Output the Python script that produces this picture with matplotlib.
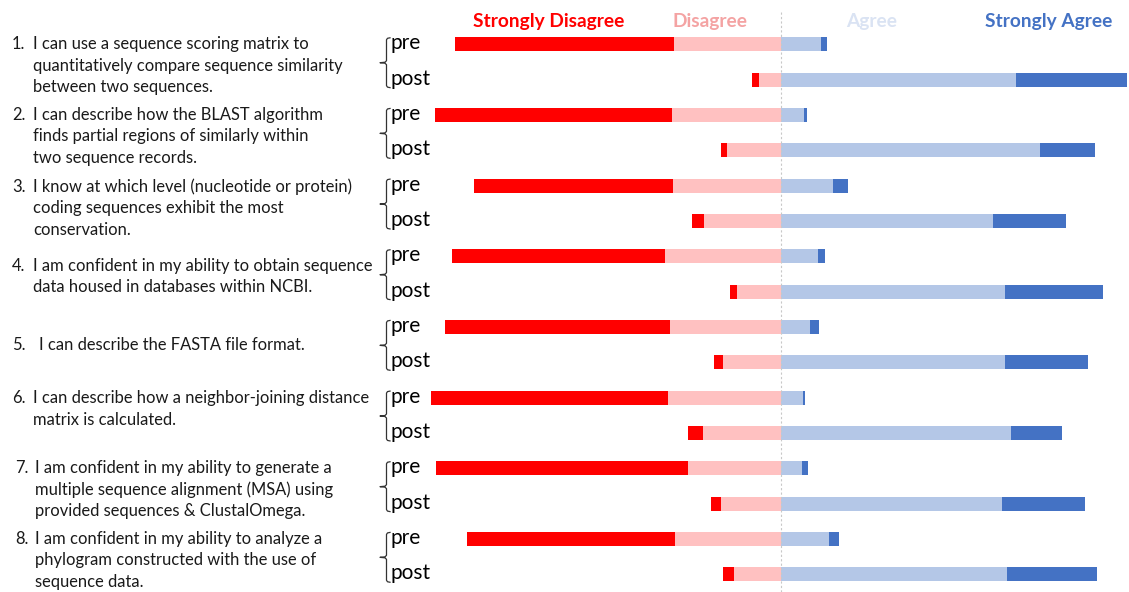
import matplotlib
matplotlib.use("Agg")
import matplotlib.pyplot as plt
from matplotlib.lines import Line2D

plt.rcParams['font.family'] = ['Lato', 'DejaVu Sans']

# survey questions
questions = [
    "I can use a sequence scoring matrix to\nquantitatively compare sequence similarity\nbetween two sequences.",
    "I can describe how the BLAST algorithm\nfinds partial regions of similarly within\ntwo sequence records.",
    "I know at which level (nucleotide or protein)\ncoding sequences exhibit the most\nconservation.",
    "I am confident in my ability to obtain sequence\ndata housed in databases within NCBI.",
    "I can describe the FASTA file format.",
    "I can describe how a neighbor-joining distance\nmatrix is calculated.",
    "I am confident in my ability to generate a\nmultiple sequence alignment (MSA) using\nprovided sequences & ClustalOmega.",
    "I am confident in my ability to analyze a\nphylogram constructed with the use of\nsequence data.",
]
numbers = ["1.", "2.", "3.", "4.", "5.", "6.", "7.", "8."]
phases = ["pre", "post"]
categories = ["Strongly Disagree", "Disagree", "Agree", "Strongly Agree"]

# percent of responses, pre survey
sd_pre = [58.6, 63.5, 53.4, 57.2, 60.3, 63.5, 67.5, 55.7]
d_pre = [28.5, 29.1, 28.8, 30.9, 29.6, 30.1, 24.8, 28.3]
a_pre = [10.7, 6.1, 13.9, 9.9, 7.7, 6.0, 5.7, 12.9]
sa_pre = [1.7, 0.9, 3.9, 1.9, 2.4, 0.4, 1.6, 2.7]
# percent of responses, post survey
sd_post = [1.9, 1.6, 3.1, 1.9, 2.4, 4.0, 2.7, 2.8]
d_post = [5.9, 14.4, 20.6, 11.7, 15.5, 20.8, 16.0, 12.7]
a_post = [62.9, 69.3, 56.8, 60.0, 60.0, 61.6, 59.1, 60.3]
sa_post = [29.6, 14.7, 19.5, 26.1, 22.1, 13.6, 22.3, 24.3]

c_sd = '#FF0000'
c_d = '#FFC1C1'
c_a = '#B4C7E7'
c_sa = '#4472C4'
head_colors = ['#FF0000', '#F4A3A3', '#DAE3F3', '#4472C4']

W, H = 1129, 592
fig = plt.figure(figsize=(W / 100, H / 100), dpi=100)


def fx(x):
    return x / W


def fy(y):
    return 1 - y / H


# bars axis: pixel 380..1129, centre (0%) at pixel 781, 3.74 px per percent
ax = fig.add_axes([fx(380), 0, fx(W) - fx(380), 1])
ax.set_xlim((380 - 781) / 3.74, (W - 781) / 3.74)
row0, step = 44.3, 35.33
ax.set_ylim((H - row0) / step, -row0 / step)
ax.axis('off')

h = 0.4
for i in range(len(questions)):
    for j, (sd, d, a, sa) in enumerate([(sd_pre, d_pre, a_pre, sa_pre),
                                        (sd_post, d_post, a_post, sa_post)]):
        y = 2 * i + j
        ax.barh(y, -d[i], height=h, color=c_d, edgecolor='none')
        ax.barh(y, -sd[i], left=-d[i], height=h, color=c_sd, edgecolor='none')
        ax.barh(y, a[i], height=h, color=c_a, edgecolor='none')
        ax.barh(y, sa[i], left=a[i], height=h, color=c_sa, edgecolor='none')

ax.axvline(0, ymin=0, ymax=1 - 12 / H, color='#C8C8C8', lw=0.8,
           linestyle=(0, (2, 2)))

# header labels
head_x = [549, 710, 872, 1049]
for lab, x, c in zip(categories, head_x, head_colors):
    fig.text(fx(x), fy(21), lab, ha='center', va='center', fontsize=13.8,
             fontweight='bold', color=c)

# question texts, one line at a time
text_y = [65.5, 136.5, 208.5, 276.5, 345, 409, 489.5, 560.5]
num_x = [12, 12, 12, 12, 12, 12, 15, 15]
txt_x = [33, 33, 33, 33, 39, 33, 35, 35]
gap = 21.5
for i, q in enumerate(questions):
    lines = q.split("\n")
    top = text_y[i] - (len(lines) - 1) * gap / 2
    fig.text(fx(num_x[i]), fy(top + 5), numbers[i], ha='left',
             va='baseline', fontsize=11.9, color='#1a1a1a')
    for k, line in enumerate(lines):
        fig.text(fx(txt_x[i]), fy(top + k * gap + 5), line, ha='left',
                 va='baseline', fontsize=11.9, color='#1a1a1a')

# pre / post labels with brackets
for i in range(len(questions)):
    y_pre = row0 + step * (2 * i)
    y_post = row0 + step * (2 * i + 1)
    fig.text(fx(391), fy(y_pre - 1), phases[0], ha='left', va='center',
             fontsize=15, color='black')
    fig.text(fx(391), fy(y_post - 1), phases[1], ha='left', va='center',
             fontsize=15, color='black')
    top = y_pre - 6.5
    bot = y_post + 8
    mid = (top + bot) / 2
    xs = [390, 387.5, 386.5, 386.5, 385, 380, 385, 386.5, 386.5, 387.5, 390]
    ys = [top, top + 0.5, top + 2, mid - 2, mid - 0.5, mid, mid + 0.5,
          mid + 2, bot - 2, bot - 0.5, bot]
    fig.add_artist(Line2D([fx(x) for x in xs], [fy(y) for y in ys],
                          transform=fig.transFigure, color='#333333', lw=0.9))

fig.savefig('out.png', dpi=100)
